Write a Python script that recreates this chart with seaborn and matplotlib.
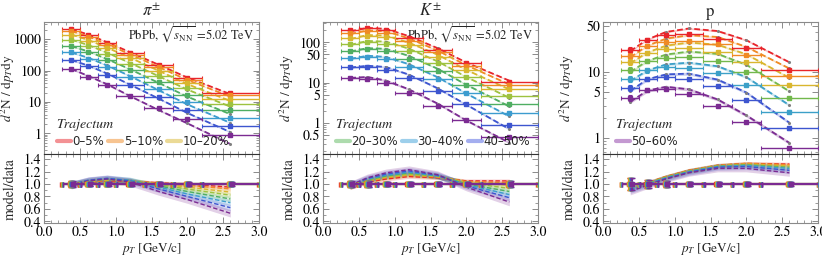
import numpy as np
import pandas as pd
import matplotlib
matplotlib.use("Agg")
import matplotlib.pyplot as plt
import seaborn as sns
from matplotlib.ticker import FixedLocator, FixedFormatter, LogLocator, NullFormatter, MultipleLocator
from matplotlib.lines import Line2D

sns.set_theme(style="ticks")
plt.rcParams['font.family'] = ['STIXGeneral', 'DejaVu Serif']
plt.rcParams['mathtext.fontset'] = 'stix'

# ---------------- data ----------------
titles = [r"$\pi^{\pm}$", r"$K^{\pm}$", "p"]
centralities = ["0–5%", "5–10%", "10–20%", "20–30%", "30–40%", "40–50%", "50–60%", "60–70%"]
legend_labels = ["0–5%", "5–10%", "10–20%", "20–30%", "30–40%", "40–50%", "50–60%"]
pt_centers = [0.38, 0.62, 0.88, 1.2, 1.6, 2.0, 2.6]
pt_edges = [0.25, 0.5, 0.75, 1.0, 1.4, 1.8, 2.2, 3.0]

pion_data = [
    [2100, 1350, 760, 370, 150, 60, 18.8],
    [1800, 1160, 650, 315, 128, 51, 16.2],
    [1400, 900, 505, 245, 99, 39, 12.4],
    [960, 615, 345, 167, 67, 27, 8.7],
    [600, 385, 215, 104, 42, 16.8, 5.4],
    [380, 240, 133, 63, 25, 10, 3.1],
    [220, 135, 74, 34, 14, 5.6, 1.78],
    [115, 64, 34, 15, 6.3, 2.8, 0.87],
]
kaon_data = [
    [200, 222, 200, 127, 65, 30, 10.6],
    [170, 190, 172, 110, 56, 26, 8.8],
    [127, 145, 132, 85, 44, 20, 6.9],
    [90, 102, 93, 60, 30, 13.5, 4.5],
    [61, 67, 61, 39, 19.5, 8.8, 2.9],
    [40, 43, 38, 24, 12, 5.4, 1.73],
    [24, 24, 21, 13, 6.3, 2.9, 0.89],
    [13.3, 12.5, 9.5, 5.5, 2.6, 1.2, 0.45],
]
proton_data = [
    [21.3, 30.4, 36, 37.3, 32, 22.7, 10.6],
    [17.3, 24.5, 28.5, 29.5, 26, 18, 8.6],
    [14.2, 19.5, 22.5, 23, 20, 14, 6.3],
    [10.6, 14.5, 16.5, 16.8, 14.5, 9.8, 4.0],
    [7.9, 10.5, 11.8, 11.5, 9.5, 6.4, 2.5],
    [5.7, 7.8, 8.4, 7.9, 6.0, 3.8, 1.39],
    [4.0, 5.3, 5.5, 4.6, 3.05, 1.75, 0.71],
]

# model / data ratios
pion_ratio = [
    [1.00, 1.03, 1.05, 1.04, 1.02, 1.00, 0.95],
    [1.00, 1.04, 1.06, 1.05, 1.01, 0.98, 0.92],
    [1.00, 1.04, 1.06, 1.05, 1.00, 0.95, 0.87],
    [1.00, 1.05, 1.07, 1.05, 0.99, 0.92, 0.82],
    [1.00, 1.05, 1.08, 1.06, 0.97, 0.88, 0.76],
    [0.99, 1.06, 1.09, 1.06, 0.95, 0.84, 0.70],
    [0.99, 1.06, 1.09, 1.05, 0.92, 0.80, 0.62],
    [0.98, 1.05, 1.08, 1.03, 0.88, 0.75, 0.53],
]
kaon_ratio = [
    [0.94, 1.03, 1.08, 1.12, 1.10, 1.05, 1.05],
    [0.95, 1.04, 1.10, 1.14, 1.11, 1.04, 1.02],
    [0.95, 1.05, 1.11, 1.15, 1.12, 1.03, 0.98],
    [0.96, 1.06, 1.12, 1.16, 1.12, 1.02, 0.93],
    [0.97, 1.07, 1.13, 1.18, 1.13, 1.00, 0.88],
    [0.97, 1.08, 1.14, 1.19, 1.13, 0.99, 0.83],
    [0.98, 1.09, 1.16, 1.21, 1.14, 0.97, 0.78],
    [0.98, 1.10, 1.18, 1.23, 1.15, 0.95, 0.71],
]
proton_ratio = [
    [0.97, 1.02, 1.12, 1.22, 1.30, 1.33, 1.32],
    [0.96, 1.02, 1.12, 1.22, 1.30, 1.33, 1.31],
    [0.95, 1.01, 1.11, 1.21, 1.29, 1.32, 1.29],
    [0.94, 1.01, 1.11, 1.21, 1.29, 1.31, 1.27],
    [0.92, 1.00, 1.10, 1.20, 1.28, 1.30, 1.25],
    [0.90, 0.99, 1.09, 1.19, 1.27, 1.28, 1.22],
    [0.88, 0.98, 1.08, 1.18, 1.25, 1.25, 1.18],
]

# relative data uncertainties
pion_err = [0.05, 0.04, 0.04, 0.04, 0.04, 0.04, 0.04]
kaon_err = [0.05, 0.05, 0.04, 0.04, 0.04, 0.04, 0.05]
proton_err = [0.10, 0.07, 0.05, 0.03, 0.03, 0.03, 0.04]
# model band half width (relative), per centrality class
band_rel = [0.03, 0.03, 0.035, 0.04, 0.045, 0.05, 0.055, 0.06]

colors8 = ['#e8252b', '#f08a24', '#d9b62e', '#9ec23f', '#4fae62', '#3c9ccf', '#3d55cf', '#7b2b92']
colors7 = ['#e8252b', '#f08a24', '#d9b62e', '#72b84c', '#3ca0c8', '#3d55cf', '#7b2b92']
legend_colors = ['#e8252b', '#f08a24', '#d9b62e', '#5cb85c', '#3ca0d8', '#4a5ee0', '#8a35a5']
legend_groups = [[0, 1, 2], [3, 4, 5], [6]]

species = [
    dict(data=pion_data, ratio=pion_ratio, err=pion_err, ylim=(0.22, 3500), colors=colors8,
         yticks=[1, 10, 100, 1000], ylabels=["1", "10", "100", "1000"]),
    dict(data=kaon_data, ratio=kaon_ratio, err=kaon_err, ylim=(0.166, 320), colors=colors8,
         yticks=[0.5, 1, 5, 10, 50, 100], ylabels=["0.5", "1", "5", "10", "50", "100"]),
    dict(data=proton_data, ratio=proton_ratio, err=proton_err, ylim=(0.566, 57), colors=colors7,
         yticks=[1, 5, 10, 50], ylabels=["1", "5", "10", "50"]),
]

# ---------------- figure ----------------
fig = plt.figure(figsize=(8.22, 2.56), dpi=100)
W = 215 / 822
lefts = [44 / 822, 323 / 822, 603 / 822]
frame_col = '#8a8a8a'
dash = (0, (3.2, 1.6))

pts = np.array(pt_centers)
edges = np.array(pt_edges)
xerr = np.vstack([pts - edges[:-1], edges[1:] - pts])


def style_axis(ax):
    for s in ax.spines.values():
        s.set_color(frame_col)
        s.set_linewidth(0.8)
    ax.tick_params(which='both', direction='in', top=True, right=True,
                   colors=frame_col, labelcolor='black', labelsize=10, pad=2)
    ax.tick_params(which='major', length=4, width=0.7)
    ax.tick_params(which='minor', length=2, width=0.6)


for k, sp in enumerate(species):
    n = len(sp['data'])
    cols = sp['colors']
    data = np.array(sp['data'], dtype=float)
    ratio = np.array(sp['ratio'], dtype=float)
    err = np.array(sp['err'])
    model = data * ratio

    axt = fig.add_axes([lefts[k], 0.398, W, 0.516])
    axr = fig.add_axes([lefts[k], 0.128, W, 0.270], sharex=axt)

    rows_m, rows_r = [], []
    for i in range(n):
        for j, x in enumerate(pt_centers):
            rows_m.append((centralities[i], x, model[i, j]))
            rows_r.append((centralities[i], x, ratio[i, j]))
    dfm = pd.DataFrame(rows_m, columns=["cent", "pt", "val"])
    dfr = pd.DataFrame(rows_r, columns=["cent", "pt", "val"])
    pal = dict(zip(centralities[:n], cols))

    # ---- top: spectra ----
    axt.set_yscale('log')
    for i in range(n):
        b = band_rel[i]
        axt.fill_between(pts, model[i] * (1 - b), model[i] * (1 + b),
                         color=cols[i], alpha=0.28, lw=0, zorder=1)
    sns.lineplot(data=dfm, x="pt", y="val", hue="cent", hue_order=centralities[:n],
                 palette=pal, linestyle=dash, lw=1.3, ax=axt, legend=False,
                 estimator=None, sort=False, zorder=2)
    sns.scatterplot(data=dfm, x="pt", y="val", color='#808080', s=5, ax=axt,
                    legend=False, linewidth=0, zorder=3)
    for i in range(n):
        axt.errorbar(pts, data[i], xerr=xerr, yerr=data[i] * err, fmt='s', ms=2.6,
                     color=cols[i], lw=1.0, capsize=1.5, capthick=0.8, zorder=4)

    axt.set_xlim(0, 3.0)
    axt.set_ylim(*sp['ylim'])
    axt.yaxis.set_major_locator(FixedLocator(sp['yticks']))
    axt.yaxis.set_major_formatter(FixedFormatter(sp['ylabels']))
    axt.yaxis.set_minor_locator(LogLocator(base=10, subs=np.arange(2, 10), numticks=20))
    axt.yaxis.set_minor_formatter(NullFormatter())
    axt.xaxis.set_major_locator(MultipleLocator(0.5))
    axt.xaxis.set_minor_locator(MultipleLocator(0.1))
    style_axis(axt)
    axt.tick_params(axis='x', labelbottom=False)
    axt.set_xlabel("")
    axt.set_ylabel(r"$d^2$N / d$p_T$dy", fontsize=9.5)
    axt.yaxis.set_label_coords(-27 / 215, 0.5)
    axt.set_title(titles[k], fontsize=12, pad=4)
    if k < 2:
        axt.text(0.975, 0.9, r"PbPb, $\sqrt{s_{\rm NN}}$ =5.02 TeV", transform=axt.transAxes,
                 ha='right', va='center', fontsize=9)

    handles = [Line2D([0], [0], color=legend_colors[i], alpha=0.5, lw=3) for i in legend_groups[k]]
    labels = [legend_labels[i] for i in legend_groups[k]]
    leg = axt.legend(handles, labels, loc='lower left', bbox_to_anchor=(0.02, -0.02),
                     ncol=3, frameon=False, title="Trajectum", alignment='left',
                     handlelength=1.2, handletextpad=0.15, columnspacing=0.3,
                     borderpad=0.2, labelspacing=0.1,
                     prop=dict(family='DejaVu Sans', size=8.5),
                     title_fontproperties=dict(family='STIXGeneral', style='italic', size=10))
    leg._legend_box.sep = 3

    # ---- bottom: ratio ----
    for i in range(n):
        b = band_rel[i]
        axr.fill_between(pts, ratio[i] - b, ratio[i] + b, color=cols[i], alpha=0.22, lw=0, zorder=1)
    sns.lineplot(data=dfr, x="pt", y="val", hue="cent", hue_order=centralities[:n],
                 palette=pal, linestyle=dash, lw=1.0, ax=axr, legend=False,
                 estimator=None, sort=False, zorder=2)
    for i in range(n):
        off = (i - (n - 1) / 2) * 0.006
        axr.errorbar(pts + off, np.ones_like(pts), xerr=xerr, yerr=err, fmt='s', ms=2.2,
                     color=cols[i], lw=1.3, elinewidth=1.5, capsize=1.8, capthick=1.0, zorder=3)
    axr.set_ylim(0.37, 1.48)
    axr.yaxis.set_major_locator(FixedLocator([0.4, 0.6, 0.8, 1.0, 1.2, 1.4]))
    axr.yaxis.set_major_formatter(FixedFormatter(["0.4", "0.6", "0.8", "1.0", "1.2", "1.4"]))
    axr.yaxis.set_minor_locator(MultipleLocator(0.1))
    axr.xaxis.set_major_locator(FixedLocator([0, 0.5, 1.0, 1.5, 2.0, 2.5, 3.0]))
    axr.xaxis.set_major_formatter(FixedFormatter(["0.0", "0.5", "1.0", "1.5", "2.0", "2.5", "3.0"]))
    axr.xaxis.set_minor_locator(MultipleLocator(0.1))
    style_axis(axr)
    axr.spines['top'].set_color('#333333')
    axr.set_ylabel("model/data", fontsize=10)
    axr.yaxis.set_label_coords(-27 / 215, 0.5)
    axr.set_xlabel(r"$p_T$ [GeV/c]", fontsize=9.5, labelpad=1.5)

fig.savefig("out.png", dpi=100)
